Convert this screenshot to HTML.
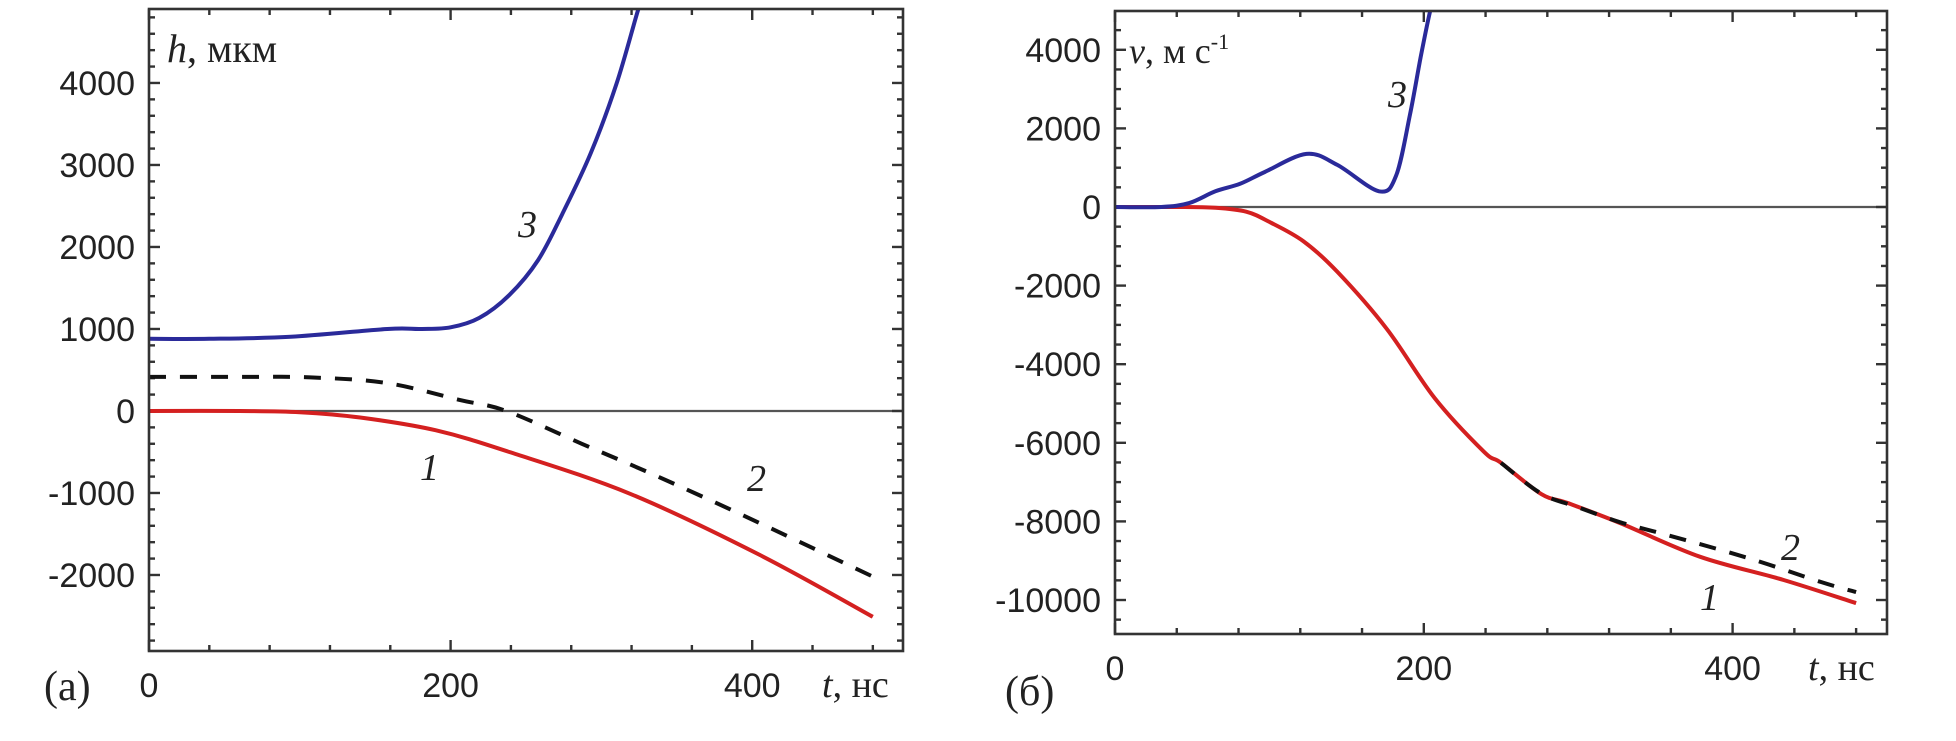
<!DOCTYPE html>
<html><head><meta charset="utf-8">
<style>
html,body{margin:0;padding:0;background:#fff;}
svg{display:block;}
.tk{font-family:"Liberation Sans",sans-serif;font-size:34px;fill:#222;}
.ser{font-family:"Liberation Serif",serif;fill:#222;}
</style></head>
<body>
<svg id="chart" width="1956" height="741" viewBox="0 0 1956 741" xmlns="http://www.w3.org/2000/svg">
<g id="pa"></g>
<g id="pb"></g>
</svg>
<script>
// ---- Panel (a) data: h, мкм vs t, нс
const aC1t=[0,60,100,140,190,239,319,405,480];
const aC1v=[0,0,-15,-80,-235,-500,-1010,-1755,-2510];
const aC2t=[0,60,107,158,206,237,287,335,396,480];
const aC2v=[415,415,410,340,135,0,-400,-780,-1290,-2020];
const aC3t=[0,40,94,158,180,200,219,239,258,274,293,310,324,330];
const aC3v=[880,880,905,1000,1000,1020,1135,1415,1840,2400,3146,3990,4870,5200];
const aXTicks=[0,200,400];
const aYTicks=[-2000,-1000,0,1000,2000,3000,4000];
// ---- Panel (b) data: v, м/с vs t, нс
const bC1t=[0,40,65,85,100,122,144,176,207,239,250,276,293,327,379,433,480];
const bC1v=[0,0,-20,-120,-380,-870,-1650,-3100,-4860,-6230,-6510,-7300,-7530,-8040,-8900,-9490,-10080];
const bC2t=[250,276,300,327,358,410,457,480];
const bC2v=[-6510,-7290,-7640,-8020,-8350,-8930,-9540,-9800];
const bC3t=[0,30,48,65,81,97,124,144,171,182,191,198,204,207];
const bC3v=[0,0,100,400,590,890,1350,1070,400,790,2340,3820,4970,5300];
const bXTicks=[0,200,400];
const bYTicks=[-10000,-8000,-6000,-4000,-2000,0,2000,4000];

const NS="http://www.w3.org/2000/svg";
function mk(tag,attrs,parent){const e=document.createElementNS(NS,tag);for(const k in attrs)e.setAttribute(k,attrs[k]);parent.appendChild(e);return e;}

function smoothPath(pts){
  let d='M'+pts[0][0].toFixed(1)+','+pts[0][1].toFixed(1);
  for(let i=0;i<pts.length-1;i++){
    const p0=pts[Math.max(0,i-1)],p1=pts[i],p2=pts[i+1],p3=pts[Math.min(pts.length-1,i+2)];
    const c1x=p1[0]+(p2[0]-p0[0])/6,c1y=p1[1]+(p2[1]-p0[1])/6;
    const c2x=p2[0]-(p3[0]-p1[0])/6,c2y=p2[1]-(p3[1]-p1[1])/6;
    d+=' C'+c1x.toFixed(1)+','+c1y.toFixed(1)+' '+c2x.toFixed(1)+','+c2y.toFixed(1)+' '+p2[0].toFixed(1)+','+p2[1].toFixed(1);
  }
  return d;
}

function panel(g,cfg){
  const X=t=>cfg.x0+(t-cfg.tmin)/(cfg.tmax-cfg.tmin)*(cfg.x1-cfg.x0);
  const Y=v=>cfg.y0+(cfg.vmax-v)/(cfg.vmax-cfg.vmin)*(cfg.y1-cfg.y0);
  const clipId=cfg.id+'clip';
  const defs=mk('defs',{},g);
  const cp=mk('clipPath',{id:clipId},defs);
  mk('rect',{x:cfg.x0,y:cfg.y0,width:cfg.x1-cfg.x0,height:cfg.y1-cfg.y0},cp);
  const zl=mk('line',{x1:cfg.x0,x2:cfg.x1,y1:Y(0),y2:Y(0),stroke:'#555','stroke-width':2.2},g);
  
  
  const tg=mk('g',{stroke:'#333','stroke-width':2.4},g);
  
  
  for(let t=cfg.tmin;t<=cfg.tmax+0.01;t+=cfg.tminor){
    const major=cfg.xTicks.includes(t);const L=major?11:6;const x=X(t);
    mk('line',{x1:x,x2:x,y1:cfg.y1,y2:cfg.y1-L},tg);
    mk('line',{x1:x,x2:x,y1:cfg.y0,y2:cfg.y0+L},tg);
  }
  const vstart=Math.ceil(cfg.vmin/cfg.vminor)*cfg.vminor;
  for(let v=vstart;v<=cfg.vmax;v+=cfg.vminor){
    const major=cfg.yTicks.includes(v);const L=major?11:6;const y=Y(v);
    mk('line',{x1:cfg.x0,x2:cfg.x0+L,y1:y,y2:y},tg);
    mk('line',{x1:cfg.x1,x2:cfg.x1-L,y1:y,y2:y},tg);
  }
  function series(ts,vs,color,dash,name){
    const pts=ts.map((t,i)=>[X(t),Y(vs[i])]);
    const p=mk('path',{d:smoothPath(pts),fill:'none',stroke:color,'stroke-width':4,'stroke-linejoin':'round','clip-path':'url(#'+clipId+')'},g);
    if(dash)p.setAttribute('stroke-dasharray',dash);
    
    
  }
  cfg.series.forEach(s=>series(s[0],s[1],s[2],s[3],s[4]));
  const fr=mk('rect',{x:cfg.x0,y:cfg.y0,width:cfg.x1-cfg.x0,height:cfg.y1-cfg.y0,fill:'none',stroke:'#333','stroke-width':2.6},g);
  
  
  cfg.xTicks.forEach(t=>{
    const e=mk('text',{x:X(t),y:cfg.y1+46,'text-anchor':'middle',class:'tk'},g);
    e.textContent=String(t);
    
    
  });
  cfg.yTicks.forEach(v=>{
    const e=mk('text',{x:cfg.x0-14,y:Y(v)+12,'text-anchor':'end',class:'tk'},g);
    e.textContent=String(v);
    
    
  });
}

panel(document.getElementById('pa'),{id:'a',x0:149,x1:903,y0:9,y1:651,tmin:0,tmax:500,vmin:-2927,vmax:4902,
  tminor:40,vminor:200,xTicks:aXTicks,yTicks:aYTicks,
  series:[[aC2t,aC2v,'#111','17,14','curve-2-dashed'],[aC1t,aC1v,'#d42020',null,'curve-1-red'],[aC3t,aC3v,'#2a2a9a',null,'curve-3-blue']]});
panel(document.getElementById('pb'),{id:'b',x0:1115,x1:1887,y0:11,y1:634,tmin:0,tmax:500,vmin:-10865,vmax:4987,
  tminor:40,vminor:500,xTicks:bXTicks,yTicks:bYTicks,
  series:[[bC1t,bC1v,'#d42020',null,'curve-1-red'],[bC2t,bC2v,'#111','17,14','curve-2-dashed'],[bC3t,bC3v,'#2a2a9a',null,'curve-3-blue']]});
</script>
<svg style="position:absolute;left:0;top:0" width="1956" height="741">
<text class="ser" x="167" y="62" font-size="40"><tspan font-style="italic">h</tspan>, мкм</text>
<text class="ser" x="822" y="697" font-size="38"><tspan font-style="italic">t</tspan>, нс</text>
<text class="ser" x="44" y="700" font-size="42">(а)</text>
<text class="ser" x="518" y="237" font-size="38" font-style="italic">3</text>
<text class="ser" x="420" y="480" font-size="38" font-style="italic">1</text>
<text class="ser" x="747" y="491" font-size="38" font-style="italic">2</text>
<text class="ser" x="1129" y="63" font-size="36"><tspan font-style="italic">v</tspan>, м с<tspan dy="-14" font-size="22">-1</tspan></text>
<text class="ser" x="1808" y="680" font-size="38"><tspan font-style="italic">t</tspan>, нс</text>
<text class="ser" x="1005" y="705" font-size="42">(б)</text>
<text class="ser" x="1388" y="107" font-size="38" font-style="italic">3</text>
<text class="ser" x="1700" y="610" font-size="38" font-style="italic">1</text>
<text class="ser" x="1781" y="560" font-size="38" font-style="italic">2</text>
</svg>
</body></html>
